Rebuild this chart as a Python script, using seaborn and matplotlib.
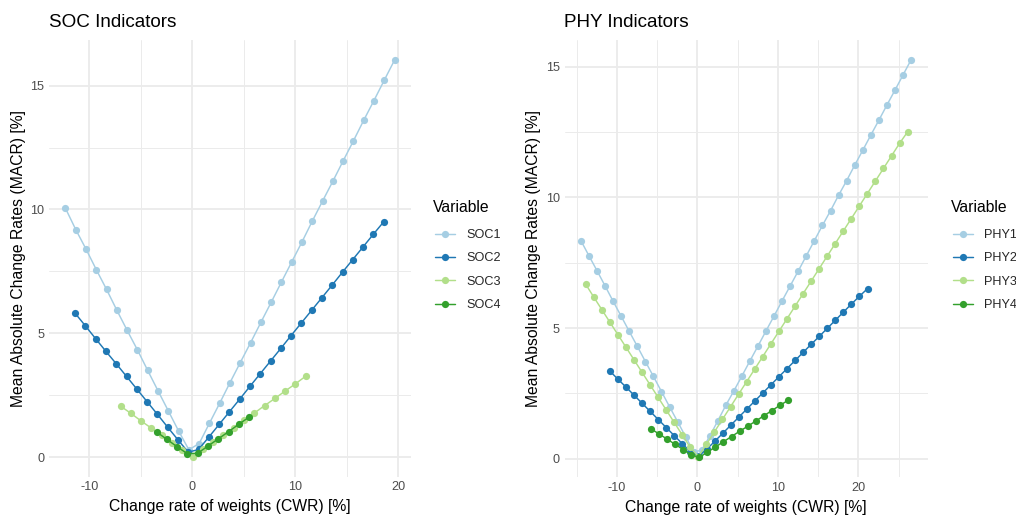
import numpy as np
import pandas as pd
import matplotlib
matplotlib.use("Agg")
import matplotlib.pyplot as plt
from matplotlib.ticker import MultipleLocator
import seaborn as sns

# ---------------- data ----------------
soc1_x = [-12.33, -11.33, -10.33, -9.33, -8.33, -7.33, -6.33, -5.33, -4.33, -3.33, -2.33, -1.33, -0.33,
          0.67, 1.67, 2.67, 3.67, 4.67, 5.67, 6.67, 7.67, 8.67, 9.67, 10.67, 11.67, 12.67, 13.67, 14.67,
          15.67, 16.67, 17.67, 18.67, 19.67]
soc1_y = [10.05, 9.19, 8.40, 7.57, 6.77, 5.93, 5.12, 4.33, 3.50, 2.68, 1.87, 1.06, 0.30,
          0.55, 1.37, 2.18, 3.01, 3.82, 4.62, 5.44, 6.25, 7.07, 7.88, 8.69, 9.53, 10.34, 11.14, 11.96,
          12.77, 13.60, 14.40, 15.22, 16.03]

soc2_x = [-11.39, -10.39, -9.39, -8.39, -7.39, -6.39, -5.39, -4.39, -3.39, -2.39, -1.39, -0.39,
          0.61, 1.61, 2.61, 3.61, 4.61, 5.61, 6.61, 7.61, 8.61, 9.61, 10.61, 11.61, 12.61, 13.61,
          14.61, 15.61, 16.61, 17.61, 18.61]
soc2_y = [5.81, 5.30, 4.78, 4.27, 3.77, 3.26, 2.75, 2.24, 1.73, 1.21, 0.70, 0.20,
          0.31, 0.81, 1.32, 1.83, 2.34, 2.86, 3.37, 3.88, 4.39, 4.91, 5.42, 5.93, 6.44, 6.95,
          7.47, 7.98, 8.49, 9.00, 9.50]

soc3_x = [-6.97, -5.97, -4.97, -3.97, -2.97, -1.97, -0.97, 0.03, 1.03, 2.03, 3.03, 4.03, 5.03,
          6.03, 7.03, 8.03, 9.03, 10.03, 11.03]
soc3_y = [2.06, 1.77, 1.46, 1.17, 0.88, 0.58, 0.29, 0.02, 0.31, 0.60, 0.90, 1.19, 1.49,
          1.78, 2.08, 2.37, 2.67, 2.96, 3.27]

soc4_x = [-3.47, -2.47, -1.47, -0.47, 0.53, 1.53, 2.53, 3.53, 4.53, 5.53]
soc4_y = [1.02, 0.72, 0.42, 0.14, 0.16, 0.45, 0.74, 1.03, 1.33, 1.62]

phy1_x = [-14.45, -13.45, -12.45, -11.45, -10.45, -9.45, -8.45, -7.45, -6.45, -5.45, -4.45, -3.45,
          -2.45, -1.45, -0.45, 0.55, 1.55, 2.55, 3.55, 4.55, 5.55, 6.55, 7.55, 8.55, 9.55, 10.55,
          11.55, 12.55, 13.55, 14.55, 15.55, 16.55, 17.55, 18.55, 19.55, 20.55, 21.55, 22.55,
          23.55, 24.55, 25.55, 26.55]
phy1_y = [8.34, 7.76, 7.19, 6.61, 6.02, 5.45, 4.87, 4.30, 3.72, 3.15, 2.57, 1.99,
          1.42, 0.84, 0.27, 0.32, 0.87, 1.45, 2.05, 2.60, 3.17, 3.75, 4.32, 4.90, 5.47, 6.05,
          6.62, 7.19, 7.77, 8.35, 8.93, 9.49, 10.08, 10.64, 11.23, 11.80, 12.38, 12.95,
          13.53, 14.10, 14.68, 15.26]

phy2_x = [-10.85, -9.85, -8.85, -7.85, -6.85, -5.85, -4.85, -3.85, -2.85, -1.85, -0.85, 0.15,
          1.15, 2.15, 3.15, 4.15, 5.15, 6.15, 7.15, 8.15, 9.15, 10.15, 11.15, 12.15, 13.15, 14.15,
          15.15, 16.15, 17.15, 18.15, 19.15, 20.15, 21.15]
phy2_y = [3.35, 3.04, 2.74, 2.43, 2.12, 1.81, 1.50, 1.19, 0.88, 0.57, 0.27, 0.10,
          0.36, 0.66, 0.97, 1.28, 1.59, 1.90, 2.21, 2.52, 2.83, 3.14, 3.45, 3.76, 4.07, 4.38,
          4.68, 4.99, 5.30, 5.61, 5.92, 6.22, 6.51]

phy3_x = [-13.87, -12.87, -11.87, -10.87, -9.87, -8.87, -7.87, -6.87, -5.87, -4.87, -3.87, -2.87,
          -1.87, -0.87, 0.13, 1.13, 2.13, 3.13, 4.13, 5.13, 6.13, 7.13, 8.13, 9.13, 10.13, 11.13,
          12.13, 13.13, 14.13, 15.13, 16.13, 17.13, 18.13, 19.13, 20.13, 21.13, 22.13, 23.13,
          24.13, 25.13, 26.13]
phy3_y = [6.68, 6.19, 5.71, 5.23, 4.75, 4.27, 3.79, 3.31, 2.83, 2.35, 1.87, 1.39,
          0.91, 0.43, 0.08, 0.55, 1.03, 1.51, 1.99, 2.47, 2.95, 3.43, 3.91, 4.39, 4.87, 5.35,
          5.83, 6.31, 6.79, 7.27, 7.75, 8.23, 8.71, 9.19, 9.67, 10.15, 10.63, 11.11,
          11.59, 12.07, 12.51]

phy4_x = [-5.75, -4.75, -3.75, -2.75, -1.75, -0.75, 0.25, 1.25, 2.25, 3.25, 4.25, 5.25, 6.25,
          7.25, 8.25, 9.25, 10.25, 11.25]
phy4_y = [1.14, 0.95, 0.75, 0.55, 0.35, 0.15, 0.05, 0.25, 0.45, 0.65, 0.85, 1.05, 1.24,
          1.44, 1.64, 1.84, 2.04, 2.23]

soc_names = ["SOC1", "SOC2", "SOC3", "SOC4"]
phy_names = ["PHY1", "PHY2", "PHY3", "PHY4"]
colors = ["#A6CEE3", "#1F78B4", "#B2DF8A", "#33A02C"]

def build(names, xs, ys):
    frames = []
    for n, x, y in zip(names, xs, ys):
        frames.append(pd.DataFrame({"CWR": x, "MACR": y, "Variable": n}))
    return pd.concat(frames, ignore_index=True)

soc_df = build(soc_names, [soc1_x, soc2_x, soc3_x, soc4_x], [soc1_y, soc2_y, soc3_y, soc4_y])
phy_df = build(phy_names, [phy1_x, phy2_x, phy3_x, phy4_x], [phy1_y, phy2_y, phy3_y, phy4_y])

# ---------------- style ----------------
sns.set_theme(style="white")
plt.rcParams["font.family"] = ["Liberation Sans", "DejaVu Sans"]
plt.rcParams["axes.unicode_minus"] = False

W, H = 1016, 516
fig = plt.figure(figsize=(W / 100, H / 100), dpi=100)
fig.patch.set_facecolor("white")

def px_axes(l, r, t, b):
    return fig.add_axes([l / W, 1 - b / H, (r - l) / W, (b - t) / H])

ax1 = px_axes(49, 411, 40.3, 476.5)
ax2 = px_axes(564.5, 927.5, 40.1, 477.3)

grid_c = "#EBEBEB"
MS = 5.2
LW = 1.05

def draw(ax, df, names, title, legend_x):
    sns.lineplot(data=df, x="CWR", y="MACR", hue="Variable", hue_order=names,
                 palette=dict(zip(names, colors)), marker="o", markersize=MS,
                 markeredgewidth=0, linewidth=LW, sort=False, estimator=None,
                 ax=ax, legend=False, zorder=3)
    ax.set_facecolor("white")
    for s in ax.spines.values():
        s.set_visible(False)
    ax.xaxis.set_major_locator(MultipleLocator(10))
    ax.xaxis.set_minor_locator(MultipleLocator(5))
    ax.yaxis.set_major_locator(MultipleLocator(5))
    ax.yaxis.set_minor_locator(MultipleLocator(2.5))
    ax.grid(True, which="major", color=grid_c, linewidth=1.3, zorder=0)
    ax.grid(True, which="minor", color=grid_c, linewidth=0.7, zorder=0)
    ax.set_axisbelow(True)
    ax.tick_params(which="both", length=0, labelsize=9.1, labelcolor="#4D4D4D", pad=3.5)
    ax.set_xlabel("Change rate of weights (CWR) [%]", fontsize=11.3, color="black", labelpad=4)
    ax.set_ylabel("Mean Absolute Change Rates (MACR) [%]", fontsize=11.3, color="black", labelpad=3)
    ax.set_title(title, fontsize=13.6, loc="left", x=0.0, pad=9.5, color="black")
    # legend title
    fig.text((legend_x - 2) / W, 1 - 207 / H, "Variable", fontsize=11.3, color="black",
             ha="left", va="center")
    handles = [plt.Line2D([], [], color=c, marker="o", markersize=MS, markeredgewidth=0,
                          linewidth=LW) for c in colors]
    fig.legend(handles, names, loc="upper left",
               bbox_to_anchor=(legend_x / W, 1 - 229 / H), frameon=False,
               fontsize=9.1, handlelength=1.6, handletextpad=0.85,
               labelspacing=0.9, borderaxespad=0, borderpad=0)

draw(ax1, soc_df, soc_names, "SOC Indicators", 435)
draw(ax2, phy_df, phy_names, "PHY Indicators", 953)

fig.savefig("out.png", dpi=100, facecolor="white")
